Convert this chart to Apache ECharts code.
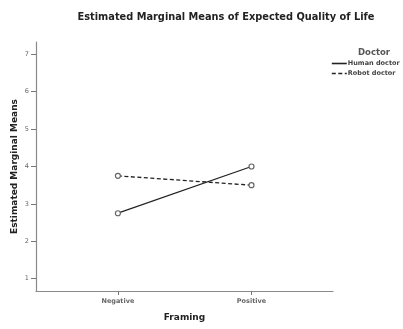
<!DOCTYPE html>
<html>
<head>
<meta charset="utf-8">
<script src="https://cdn.jsdelivr.net/npm/echarts@6/dist/echarts.min.js"></script>
<style>
  html, body { margin: 0; padding: 0; background: #fff; }
  #chart { width: 403px; height: 329px; }
</style>
</head>
<body>
<div id="chart"></div>
<script>
// framing categories on the x axis
const framing = ['Negative', 'Positive']
// estimated marginal means per doctor type
const humanDoctor = [2.75, 4.0]
const robotDoctor = [3.75, 3.5]
// y tick values
const yTicks = [1, 2, 3, 4, 5, 6, 7]

const chart = echarts.init(document.getElementById('chart'))

// x positions: category index 1, 2
const xTicks = framing.map((c, i) => i + 1)
const toPoints = arr => arr.map((v, i) => [i + 1, v])

const font = 'DejaVu Sans, Noto Sans, sans-serif'

const option = {
  animation: false,
  title: [
    {
      text: 'Estimated Marginal Means of Expected Quality of Life',
      left: 221,
      textAlign: 'center',
      top: 7,
      textStyle: { fontSize: 9.8, fontWeight: 'bold', color: '#222', fontFamily: font }
    },
    {
      text: 'Doctor',
      left: 353,
      top: 43,
      textStyle: { fontSize: 8.5, fontWeight: 'bold', color: '#555', fontFamily: font }
    }
  ],
  legend: {
    orient: 'vertical',
    left: 331,
    top: 60,
    padding: 0,
    itemWidth: 15,
    itemHeight: 6,
    itemGap: 3,
    itemStyle: { opacity: 0 },
    lineStyle: { width: 1.6 },
    textStyle: { fontSize: 6.5, fontWeight: 'bold', color: '#444', fontFamily: font, padding: [0, 0, 0, -4] },
    data: ['Human doctor', 'Robot doctor']
  },
  grid: { left: 36, right: 70, top: 42, bottom: 38, outerBoundsMode: 'none' },
  xAxis: {
    type: 'value',
    min: 0.387,
    max: 2.61,
    name: 'Framing',
    nameLocation: 'middle',
    nameGap: 22,
    nameTextStyle: { fontSize: 9, fontWeight: 'bold', color: '#222', fontFamily: font },
    splitLine: { show: false },
    axisLine: { lineStyle: { color: '#8a8a8a', width: 1.2 } },
    axisTick: { customValues: xTicks, length: 4, lineStyle: { color: '#777' } },
    axisLabel: {
      customValues: xTicks,
      formatter: v => framing[Math.round(v) - 1] || '',
      fontSize: 6.5, fontWeight: 'bold', color: '#666', fontFamily: font, margin: 7
    }
  },
  yAxis: {
    type: 'value',
    min: 0.67,
    max: 7.33,
    name: 'Estimated Marginal Means',
    nameLocation: 'middle',
    nameGap: 17,
    nameMoveOverlap: false,
    nameTextStyle: { fontSize: 9, fontWeight: 'bold', color: '#222', fontFamily: font },
    splitLine: { show: false },
    axisLine: { show: true, lineStyle: { color: '#8a8a8a', width: 1.2 } },
    axisTick: { show: true, customValues: yTicks, length: 5, lineStyle: { color: '#777' } },
    axisLabel: {
      customValues: yTicks,
      fontSize: 6.5, color: '#666', fontFamily: font, margin: 7
    }
  },
  series: [
    {
      name: 'Human doctor',
      type: 'line',
      data: toPoints(humanDoctor),
      symbol: 'circle',
      symbolSize: 5,
      lineStyle: { color: '#222', width: 1.3 },
      itemStyle: { color: '#fff', borderColor: '#666', borderWidth: 1.2 }
    },
    {
      name: 'Robot doctor',
      type: 'line',
      data: toPoints(robotDoctor),
      symbol: 'circle',
      symbolSize: 5,
      lineStyle: { color: '#222', width: 1.3, type: [4, 2.5] },
      itemStyle: { color: '#fff', borderColor: '#666', borderWidth: 1.2 }
    }
  ]
}
chart.setOption(option)
</script>
</body>
</html>
